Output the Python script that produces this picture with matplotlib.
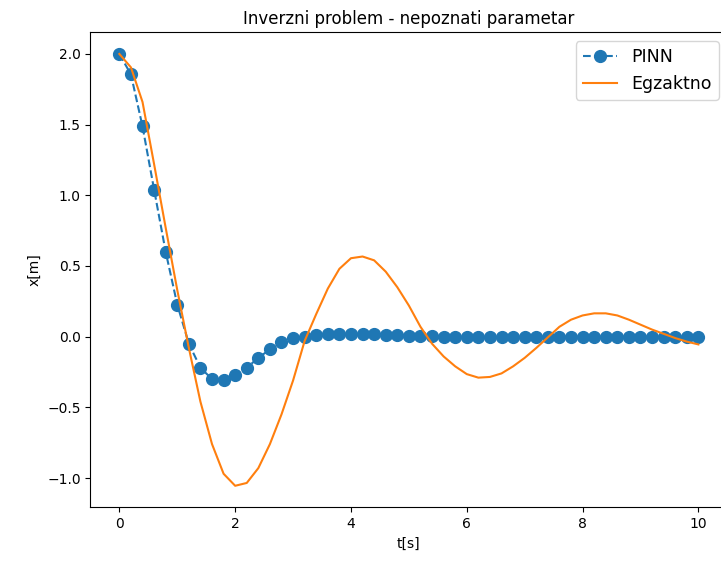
import matplotlib
matplotlib.use("Agg")
from matplotlib import pyplot as plt

# time grid, 0..10 s in steps of 0.2
t = [round(0.2 * i, 1) for i in range(51)]

# network prediction
x_pinn = [2.0, 1.855, 1.487, 1.04, 0.60, 0.227, -0.05, -0.22, -0.30, -0.31,
          -0.27, -0.22, -0.15, -0.09, -0.04, -0.01, 0.0, 0.012, 0.018, 0.02,
          0.02, 0.02, 0.016, 0.012, 0.01, 0.008, 0.004, 0.002, 0.0, 0.0,
          0.0, 0.0, 0.0, 0.0, 0.0, 0.0, 0.0, 0.0, 0.0, 0.0,
          0.0, 0.0, 0.0, 0.0, 0.0, 0.0, 0.0, 0.0, 0.0, 0.0,
          0.0]

# exact solution
x_exact = [2.0, 1.905, 1.66, 1.22, 0.77, 0.33, -0.08, -0.46, -0.76, -0.97,
           -1.055, -1.035, -0.93, -0.76, -0.55, -0.31, -0.03, 0.16, 0.34, 0.48,
           0.555, 0.567, 0.54, 0.46, 0.35, 0.22, 0.07, -0.05, -0.14, -0.21,
           -0.265, -0.29, -0.285, -0.26, -0.21, -0.15, -0.08, -0.005, 0.07, 0.12,
           0.15, 0.165, 0.165, 0.15, 0.12, 0.085, 0.05, 0.02, -0.01, -0.035,
           -0.055]


def main():
    fig = plt.figure(figsize=(7.21, 5.65), dpi=100)
    ax = fig.add_axes([0.1254, 0.102, 0.8834, 0.8407])
    ax.plot(t, x_pinn, "o--", markersize=8.5, label="PINN")
    ax.plot(t, x_exact, "-", label="Egzaktno")
    ax.set_title("Inverzni problem - nepoznati parametar")
    ax.set_xlabel("t[s]")
    ax.set_ylabel("x[m]")
    ax.legend(loc="upper right", fontsize=12.5)
    fig.savefig("out.png", dpi=100)


if __name__ == "__main__":
    main()
